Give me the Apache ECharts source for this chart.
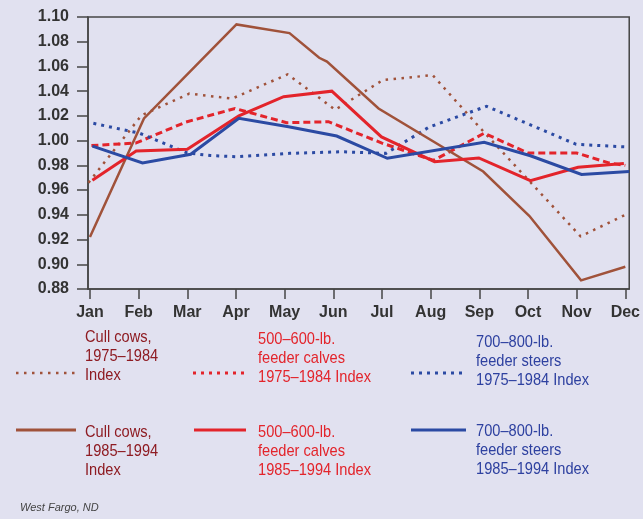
<!DOCTYPE html>
<html>
<head>
<meta charset="utf-8">
<script src="https://cdn.jsdelivr.net/npm/echarts@6/dist/echarts.min.js"></script>
<style>
html,body{margin:0;padding:0;background:#E1E1F0;}
#c{width:643px;height:519px;}
</style>
</head>
<body>
<div id="c"></div>
<script>
// ---- data (x = month position, 1 = Jan ... 12 = Dec) ----
var months = ['Jan','Feb','Mar','Apr','May','Jun','Jul','Aug','Sep','Oct','Nov','Dec'];
var monthTicks = [1,2,3,4,5,6,7,8,9,10,11,12];

var cullCows7584X = [0.97, 2.06, 3.04, 3.92, 5.06, 6.04, 7.02, 8.04, 9.0, 11.08, 12];
var cullCows7584Y = [0.966, 1.0205, 1.038, 1.034, 1.0536, 1.025, 1.049, 1.053, 1.011, 0.9226, 0.940];

var calves7584X = [1.03, 1.94, 2.97, 3.98, 5.04, 5.9, 7.0, 8.06, 9.1, 10.0, 11.0, 11.66, 12];
var calves7584Y = [0.996, 0.998, 1.015, 1.026, 1.0145, 1.0153, 0.998, 0.984, 1.006, 0.990, 0.990, 0.982, 0.980];

var steers7584X = [1.07, 2.02, 3.0, 3.47, 4.01, 5.1, 6.16, 7.08, 7.97, 9.15, 10.99, 12.06];
var steers7584Y = [1.014, 1.006, 0.990, 0.988, 0.987, 0.9897, 0.991, 0.9897, 1.011, 1.0278, 0.997, 0.9948];

var cullCows8594X = [1, 2.11, 4.01, 5.10, 5.71, 5.87, 6.93, 9.08, 10.03, 11.09, 12];
var cullCows8594Y = [0.922, 1.018, 1.094, 1.087, 1.067, 1.064, 1.026, 0.975, 0.939, 0.887, 0.898];

var calves8594X = [1.05, 1.95, 3.0, 4.06, 4.98, 5.97, 6.99, 8.08, 8.99, 10.05, 11.03, 11.97];
var calves8594Y = [0.968, 0.9916, 0.993, 1.020, 1.0355, 1.040, 1.003, 0.983, 0.986, 0.9676, 0.9784, 0.9816];

var steers8594X = [1.05, 2.08, 3.07, 4.06, 5.08, 6.07, 7.11, 9.1, 10.05, 11.1, 12.08];
var steers8594Y = [0.9956, 0.982, 0.989, 1.018, 1.0113, 1.0037, 0.9857, 0.9986, 0.9878, 0.9727, 0.975];

var legendCull7584 = 'Cull cows,\n1975\u20131984\nIndex';
var legendCalves7584 = '500\u2013600-lb.\nfeeder calves\n1975\u20131984 Index';
var legendSteers7584 = '700\u2013800-lb.\nfeeder steers\n1975\u20131984 Index';
var legendCull8594 = 'Cull cows,\n1985\u20131994\nIndex';
var legendCalves8594 = '500\u2013600-lb.\nfeeder calves\n1985\u20131994 Index';
var legendSteers8594 = '700\u2013800-lb.\nfeeder steers\n1985\u20131994 Index';
var sourceNote = 'West Fargo, ND';

// ---- styles ----
var BROWN = '#A0523A', RED = '#E3242B', BLUE = '#2B4AA3';
var BROWN_TXT = '#8E1B22', RED_TXT = '#E3242B', BLUE_TXT = '#2E41A0';
var NARROW = '"Liberation Sans Narrow","Arial Narrow","Liberation Sans",sans-serif';
var AXIS = '#454545';

function pairs(xs, ys){ return xs.map(function(x,i){ return [x, ys[i]]; }); }

function series(name, xs, ys, color, width, type){
  return {
    name: name, type: 'line', data: pairs(xs, ys),
    symbol: 'none', animation: false, clip: true,
    lineStyle: {color: color, width: width, type: type, cap: 'butt', join: 'miter'}
  };
}

var chart = echarts.init(document.getElementById('c'), null, {renderer: 'canvas'});

function legLine(x1, x2, y, color, width, dash){
  return {type: 'line', shape: {x1: x1, y1: y, x2: x2, y2: y},
    style: {stroke: color, lineWidth: width, lineDash: dash || null, lineCap: 'butt'}};
}
function legText(x, top, text, color){
  return {type: 'text', x: x, y: top, scaleX: 0.86, scaleY: 1,
    style: {text: text, fill: color, font: '17px ' + NARROW, lineHeight: 19,
      verticalAlign: 'top', align: 'left'}};
}

chart.setOption({
  backgroundColor: '#E1E1F0',
  animation: false,
  grid: {left: 88, top: 17, right: 10, bottom: 230, show: true,
    borderColor: AXIS, borderWidth: 1.5, backgroundColor: 'transparent'},
  xAxis: {
    type: 'value', min: 0.96, max: 12.08,
    axisLine: {show: true, lineStyle: {color: AXIS, width: 1.5}},
    axisTick: {show: true, customValues: monthTicks, length: 10, inside: false,
      lineStyle: {color: AXIS, width: 1.5}},
    axisLabel: {customValues: monthTicks, margin: 16,
      formatter: function(v){ return months[Math.round(v) - 1]; },
      color: '#333', fontFamily: NARROW, fontWeight: 'bold', fontSize: 16},
    splitLine: {show: false}
  },
  yAxis: {
    type: 'value', min: 0.88, max: 1.10, interval: 0.02,
    axisLine: {show: true, lineStyle: {color: AXIS, width: 1.5}},
    axisTick: {show: true, length: 11, lineStyle: {color: AXIS, width: 1.5}},
    axisLabel: {formatter: function(v){ return v.toFixed(2); }, margin: 19,
      color: '#333', fontFamily: NARROW, fontWeight: 'bold', fontSize: 16},
    splitLine: {show: false}
  },
  series: [
    series('Cull cows, 1975–1984 Index', cullCows7584X, cullCows7584Y, BROWN, 2.5, [2.5, 5.5]),
    series('500–600-lb. feeder calves 1975–1984 Index', calves7584X, calves7584Y, RED, 3, [7, 4]),
    series('700–800-lb. feeder steers 1975–1984 Index', steers7584X, steers7584Y, BLUE, 3, [3, 5]),
    series('Cull cows, 1985–1994 Index', cullCows8594X, cullCows8594Y, BROWN, 2.5, 'solid'),
    series('500–600-lb. feeder calves 1985–1994 Index', calves8594X, calves8594Y, RED, 3, 'solid'),
    series('700–800-lb. feeder steers 1985–1994 Index', steers8594X, steers8594Y, BLUE, 3, 'solid')
  ],
  graphic: [
    legLine(16, 75, 373, BROWN, 2.5, [2.5, 5.5]),
    legLine(193, 247, 373, RED, 3, [3, 5]),
    legLine(411, 467, 373, BLUE, 3, [3, 5]),
    legLine(16, 76, 430, BROWN, 3),
    legLine(194, 246, 430, RED, 3),
    legLine(411, 466, 430, BLUE, 3),
    legText(85, 327.5, legendCull7584, BROWN_TXT),
    legText(258, 330, legendCalves7584, RED_TXT),
    legText(476, 332.5, legendSteers7584, BLUE_TXT),
    legText(85, 423, legendCull8594, BROWN_TXT),
    legText(258, 423, legendCalves8594, RED_TXT),
    legText(476, 422, legendSteers8594, BLUE_TXT),
    {type: 'text', x: 20, y: 508,
      style: {text: sourceNote, fill: '#444', font: 'italic 11px "Liberation Sans",sans-serif',
        verticalAlign: 'middle', align: 'left'}}
  ]
});
</script>
</body>
</html>
